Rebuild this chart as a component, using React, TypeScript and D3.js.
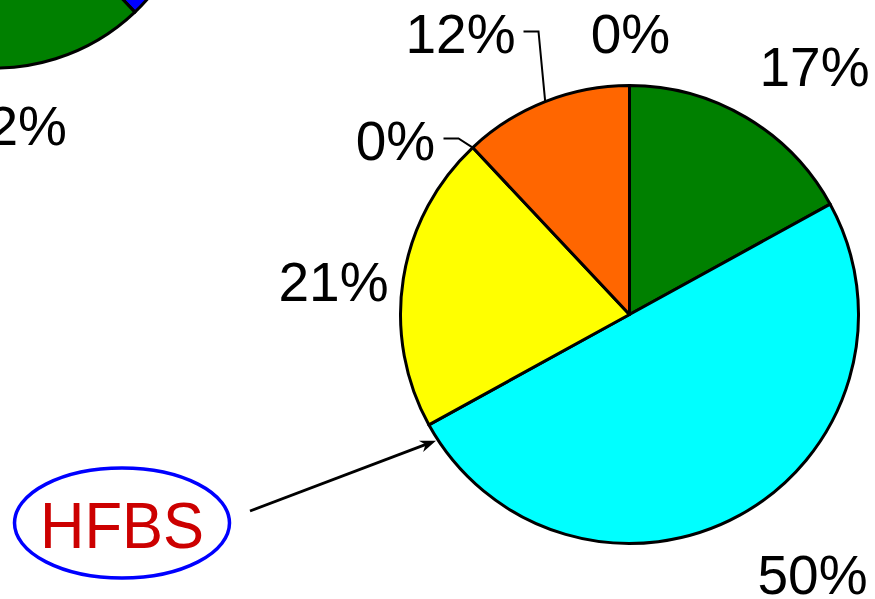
import React from 'react';
import * as d3 from 'd3';

// ---- Data ----
const mainCategories = ['Green', 'Cyan', 'Yellow', 'Zero A', 'Orange', 'Zero B'];
const mainValues = [17, 50, 21, 0, 12, 0];
const mainColors = ['#008000', '#00ffff', '#ffff00', '#ffff00', '#ff6600', '#008000'];

// neighbouring (cropped) pie on the left
const sideCategories = ['Hidden', 'Blue', 'Green'];
const sideValues = [34.9, 3, 62.1];
const sideColors = ['#ff0000', '#0000ff', '#008000'];
const sideLabel = '2%';

const calloutText = 'HFBS';

// ---- Layout (positions kept separate from data) ----
const W = 875;
const H = 599;
const cx = 629.5;
const cy = 314.5;
const R = 229;
const sideCx = -5;
const sideCy = -135;
const sideR = 203;
const FONT = 'Liberation Sans, Arial, Helvetica, sans-serif';
const FS = 55;

// label centre offsets relative to the pie centre (hand-placed labels)
const labelOffsets: [number, number][] = [
  [185, -248],
  [183, 260],
  [-296, -33],
  [-234, -174],
  [-169, -281],
  [1, -281],
];
// which labels have a leader line
const leaderFor = [false, false, false, true, true, false];

export default function App() {
  const pie = d3.pie<number>().sort(null).value((d) => d).startAngle(0).endAngle(2 * Math.PI);
  const arcs = pie(mainValues);
  const arcGen = d3.arc<d3.PieArcDatum<number>>().innerRadius(0).outerRadius(R);

  const sideArcs = pie(sideValues);
  const sideArcGen = d3.arc<d3.PieArcDatum<number>>().innerRadius(0).outerRadius(sideR);

  const polar = (a: number, r: number): [number, number] => [cx + r * Math.sin(a), cy - r * Math.cos(a)];

  // arrow to the cyan slice edge
  const arrowEnd = polar(arcs[1].endAngle - 0.075, R + 2);
  const arrowStart: [number, number] = [250, 511];
  const ang = Math.atan2(arrowEnd[1] - arrowStart[1], arrowEnd[0] - arrowStart[0]);
  const headLen = 16;
  const headW = 6;
  const bx = arrowEnd[0] - headLen * Math.cos(ang);
  const by = arrowEnd[1] - headLen * Math.sin(ang);
  const head = [
    arrowEnd,
    [bx + headW * Math.sin(ang), by - headW * Math.cos(ang)],
    [arrowEnd[0] - headLen * 0.7 * Math.cos(ang), arrowEnd[1] - headLen * 0.7 * Math.sin(ang)],
    [bx - headW * Math.sin(ang), by + headW * Math.cos(ang)],
  ];

  return (
    <svg
      width={W}
      height={H}
      viewBox={`0 0 ${W} ${H}`}
      style={{ position: 'absolute', left: 0, top: 0, background: '#fff' }}
    >
      {/* side pie */}
      <g transform={`translate(${sideCx},${sideCy})`}>
        {sideArcs.map((a, i) => (
          <path key={sideCategories[i]} d={sideArcGen(a) || ''} fill={sideColors[i]} stroke="#000" strokeWidth={3} strokeLinejoin="round" />
        ))}
      </g>
      <text x={67} y={126} fontFamily={FONT} fontSize={FS} textAnchor="end" dominantBaseline="central" fill="#000">
        {sideLabel}
      </text>

      {/* main pie */}
      <g transform={`translate(${cx},${cy})`}>
        {arcs.map((a, i) =>
          a.endAngle > a.startAngle ? (
            <path key={mainCategories[i]} d={arcGen(a) || ''} fill={mainColors[i]} stroke="#000" strokeWidth={3} strokeLinejoin="round" />
          ) : null
        )}
      </g>

      {/* labels */}
      {arcs.map((a, i) => {
        const [dx, dy] = labelOffsets[i];
        const lx = cx + dx;
        const ly = cy + dy;
        const text = `${mainValues[i]}%`;
        let leader = null;
        if (leaderFor[i]) {
          const halfW = text.length === 2 ? 40 : 55;
          const mid = (a.startAngle + a.endAngle) / 2;
          const [px, py] = polar(mid, R);
          const x0 = lx + halfW + 8;
          const yL = ly - 2;
          const x1 = x0 + 15;
          leader = <polyline points={`${x0},${yL} ${x1},${yL} ${px},${py}`} fill="none" stroke="#000" strokeWidth={2} />;
        }
        return (
          <g key={`lab-${mainCategories[i]}`}>
            {leader}
            <text x={lx} y={ly} fontFamily={FONT} fontSize={FS} textAnchor="middle" dominantBaseline="central" fill="#000">
              {text}
            </text>
          </g>
        );
      })}

      {/* callout */}
      <ellipse cx={122} cy={523} rx={107.5} ry={55} fill="none" stroke="#0000ff" strokeWidth={3.5} />
      <text x={122} y={548} fontFamily={FONT} fontSize={64} textAnchor="middle" fill="#cc0000" textLength={164} lengthAdjust="spacingAndGlyphs">
        {calloutText}
      </text>
      <line x1={arrowStart[0]} y1={arrowStart[1]} x2={arrowEnd[0] - 10 * Math.cos(ang)} y2={arrowEnd[1] - 10 * Math.sin(ang)} stroke="#000" strokeWidth={2.8} />
      <polygon points={head.map((p) => p.join(',')).join(' ')} fill="#000" />
    </svg>
  );
}
